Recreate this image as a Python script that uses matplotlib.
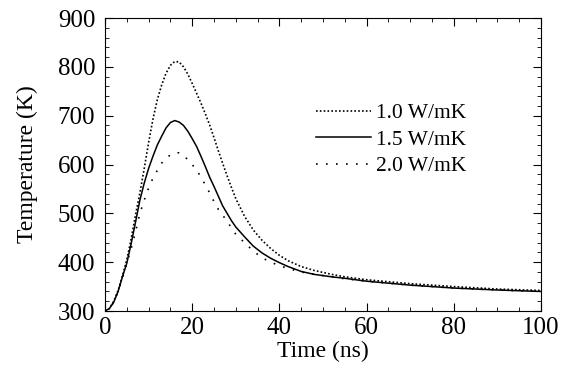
import numpy as np
import matplotlib
matplotlib.use("Agg")
import matplotlib.pyplot as plt
from matplotlib.ticker import MultipleLocator

plt.rcParams['font.family'] = ['Liberation Serif', 'DejaVu Serif']

# values (time in ns, temperature in K)
t = [0, 1, 2, 3, 4, 5, 6, 7, 8, 9, 10, 11, 12, 13, 14, 15, 16, 17, 18, 19, 20,
     21, 22, 23, 24, 25, 26, 27, 28, 29, 30, 32, 34, 36, 38, 40, 42, 45, 48, 52,
     55, 60, 70, 80, 90, 100]

T_10 = [300, 305, 320, 342, 372, 405, 448, 497, 542, 592, 645, 693, 733, 763,
        787, 803, 811, 810, 800, 785, 766, 746, 726, 704, 681, 655, 628, 602,
        577, 553, 530, 494, 466, 445, 428, 414, 403, 391, 383, 375,
        370, 364, 356, 350, 345, 342]

T_15 = [300, 305, 318, 340, 370, 398, 438, 482, 527, 562, 592, 617, 640, 658,
        675, 686, 690, 687, 680, 668, 653, 637, 617, 596, 574, 555, 535, 515,
        500, 485, 472, 452, 433, 419, 408, 399, 391, 381, 375, 370,
        367, 361, 353, 347, 343, 340]

T_20 = [300, 305, 318, 340, 368, 398, 428, 462, 500, 527, 552, 572, 588, 603,
        612, 620, 624, 624, 618, 610, 600, 588, 575, 558, 542, 524, 508, 496,
        484, 470, 457, 440, 423, 409, 400, 393, 387, 380, 375, 370,
        366, 361, 353, 347, 343, 340]

labels = ['1.0 W/mK', '1.5 W/mK', '2.0 W/mK']

fig = plt.figure(figsize=(5.71, 3.73), dpi=100)
ax = fig.add_axes([0.1839, 0.1662, 0.7636, 0.7855])

ax.plot(t, T_10, color='black', lw=1.2, linestyle=(0, (1, 1.3)), label=labels[0])
ax.plot(t, T_15, color='black', lw=1.1, linestyle='-', label=labels[1])
ax.plot(t, T_20, color='black', lw=1.2, linestyle=(0, (1, 5)), label=labels[2])

ax.set_xlim(0, 100)
ax.set_ylim(300, 900)
ax.xaxis.set_major_locator(MultipleLocator(20))
ax.xaxis.set_minor_locator(MultipleLocator(5))
ax.yaxis.set_major_locator(MultipleLocator(100))
ax.yaxis.set_minor_locator(MultipleLocator(20))
ax.tick_params(which='both', direction='in', top=True, right=True, labelsize=18)
ax.tick_params(which='major', length=6, width=0.8, pad=4)
ax.tick_params(axis='y', which='major', pad=7)
ax.tick_params(which='minor', length=3, width=0.6)
for s in ax.spines.values():
    s.set_linewidth(0.8)

ax.set_xlabel('Time (ns)', fontsize=17, labelpad=2)
ax.set_ylabel('Temperature (K)', fontsize=17, labelpad=14)

ax.legend(loc='center left', bbox_to_anchor=(0.484, 0.584), frameon=False,
          fontsize=15.5, handlelength=2.55, handletextpad=0.25,
          labelspacing=0.3, borderpad=0, borderaxespad=0)

fig.savefig('out.png', dpi=100)
